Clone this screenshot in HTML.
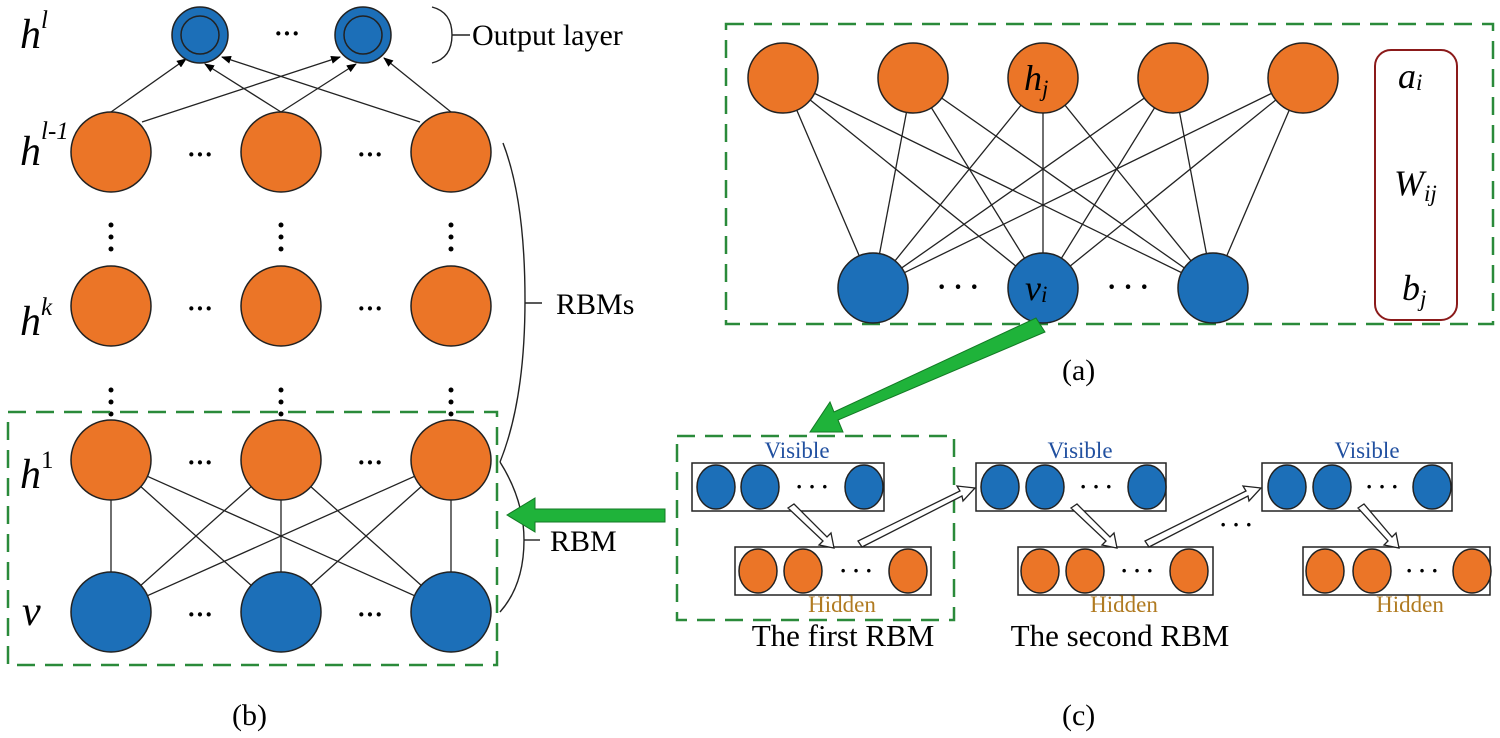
<!DOCTYPE html>
<html><head><meta charset="utf-8"><style>
html,body{margin:0;padding:0;background:#fff;}
svg{display:block;font-family:"Liberation Serif",serif;}
</style></head><body>
<svg width="1500" height="738" viewBox="0 0 1500 738" xmlns="http://www.w3.org/2000/svg">
<defs>
<marker id="ar" markerWidth="10" markerHeight="8" refX="9" refY="4" orient="auto" markerUnits="userSpaceOnUse"><path d="M0,0 L10,4 L0,8 z" fill="#000"/></marker>
</defs>
<g stroke="#222" stroke-width="1.3">
<line x1="111" y1="112" x2="186" y2="59" marker-end="url(#ar)"/>
<line x1="142" y1="122" x2="340" y2="57" marker-end="url(#ar)"/>
<line x1="281" y1="112" x2="205" y2="64" marker-end="url(#ar)"/>
<line x1="281" y1="112" x2="356" y2="64" marker-end="url(#ar)"/>
<line x1="420" y1="122" x2="222" y2="57" marker-end="url(#ar)"/>
<line x1="451" y1="112" x2="384" y2="58" marker-end="url(#ar)"/>
<line x1="111" y1="460" x2="111" y2="612"/><line x1="281" y1="460" x2="281" y2="612"/><line x1="451" y1="460" x2="451" y2="612"/>
<line x1="111" y1="460" x2="281" y2="612"/><line x1="111" y1="460" x2="451" y2="612"/>
<line x1="281" y1="460" x2="111" y2="612"/><line x1="281" y1="460" x2="451" y2="612"/>
<line x1="451" y1="460" x2="111" y2="612"/><line x1="451" y1="460" x2="281" y2="612"/>
<g>
<line x1="783" y1="78" x2="873" y2="288"/><line x1="783" y1="78" x2="1043" y2="288"/><line x1="783" y1="78" x2="1213" y2="288"/>
<line x1="913" y1="78" x2="873" y2="288"/><line x1="913" y1="78" x2="1043" y2="288"/><line x1="913" y1="78" x2="1213" y2="288"/>
<line x1="1043" y1="78" x2="873" y2="288"/><line x1="1043" y1="78" x2="1043" y2="288"/><line x1="1043" y1="78" x2="1213" y2="288"/>
<line x1="1173" y1="78" x2="873" y2="288"/><line x1="1173" y1="78" x2="1043" y2="288"/><line x1="1173" y1="78" x2="1213" y2="288"/>
<line x1="1303" y1="78" x2="873" y2="288"/><line x1="1303" y1="78" x2="1043" y2="288"/><line x1="1303" y1="78" x2="1213" y2="288"/>
</g>
</g>
<g stroke="#222" stroke-width="1.5">
<circle cx="200" cy="35" r="28" fill="#1c6fb8"/><circle cx="200" cy="35" r="19" fill="none"/>
<circle cx="363" cy="35" r="28" fill="#1c6fb8"/><circle cx="363" cy="35" r="19" fill="none"/>
<g fill="#eb7527">
<circle cx="111" cy="152" r="40"/><circle cx="281" cy="152" r="40"/><circle cx="451" cy="152" r="40"/>
<circle cx="111" cy="306" r="40"/><circle cx="281" cy="306" r="40"/><circle cx="451" cy="306" r="40"/>
<circle cx="111" cy="460" r="40"/><circle cx="281" cy="460" r="40"/><circle cx="451" cy="460" r="40"/>
</g>
<g fill="#1c6fb8">
<circle cx="111" cy="612" r="40"/><circle cx="281" cy="612" r="40"/><circle cx="451" cy="612" r="40"/>
</g>
</g>
<g font-size="26" text-anchor="middle" font-weight="bold">
<text x="287" y="42">···</text>
<text x="200" y="163">···</text><text x="370" y="163">···</text>
<text x="200" y="317">···</text><text x="370" y="317">···</text>
<text x="200" y="471">···</text><text x="370" y="471">···</text>
<text x="200" y="623">···</text><text x="370" y="623">···</text>
</g>
<g fill="#000">
<circle cx="111" cy="225" r="2.5"/><circle cx="111" cy="237" r="2.5"/><circle cx="111" cy="249" r="2.5"/>
<circle cx="281" cy="225" r="2.5"/><circle cx="281" cy="237" r="2.5"/><circle cx="281" cy="249" r="2.5"/>
<circle cx="451" cy="225" r="2.5"/><circle cx="451" cy="237" r="2.5"/><circle cx="451" cy="249" r="2.5"/>
<circle cx="111" cy="390" r="2.5"/><circle cx="111" cy="402" r="2.5"/><circle cx="111" cy="414" r="2.5"/>
<circle cx="281" cy="390" r="2.5"/><circle cx="281" cy="402" r="2.5"/><circle cx="281" cy="414" r="2.5"/>
<circle cx="451" cy="390" r="2.5"/><circle cx="451" cy="402" r="2.5"/><circle cx="451" cy="414" r="2.5"/>
</g>
<g font-size="42" font-style="italic">
<text x="20" y="48">h<tspan font-size="25" dy="-20">l</tspan></text>
<text x="20" y="165">h<tspan font-size="25" dy="-26">l-1</tspan></text>
<text x="20" y="335">h<tspan font-size="25" dy="-20">k</tspan></text>
<text x="20" y="488">h<tspan font-size="25" dy="-20" font-style="normal">1</tspan></text>
<text x="22" y="625">v</text>
</g>
<g fill="none" stroke="#222" stroke-width="1.4">
<path d="M432,7 Q452,12 452,35 Q452,58 432,63"/><line x1="452" y1="35" x2="470" y2="35"/>
<path d="M503,143 Q525,200 525,300 Q525,400 500,462"/><line x1="525" y1="303" x2="542" y2="303"/>
<path d="M500,462 Q524,500 524,540 Q524,585 500,612"/><line x1="524" y1="540" x2="540" y2="540"/>
</g>
<g font-size="30">
<text x="472" y="45">Output layer</text>
<text x="556" y="314">RBMs</text>
<text x="550" y="551">RBM</text>
<text x="232" y="725">(b)</text>
<text x="1062" y="380">(a)</text>
<text x="1062" y="725">(c)</text>
</g>
<rect x="8" y="412" width="489" height="253" fill="none" stroke="#2a8a3a" stroke-width="2.5" stroke-dasharray="18,10"/>
<rect x="726" y="24" width="767" height="300" fill="none" stroke="#2a8a3a" stroke-width="2.5" stroke-dasharray="18,10"/>
<g stroke="#222" stroke-width="1.5">
<g fill="#eb7527"><circle cx="783" cy="78" r="35"/><circle cx="913" cy="78" r="35"/><circle cx="1043" cy="78" r="35"/><circle cx="1173" cy="78" r="35"/><circle cx="1303" cy="78" r="35"/></g>
<g fill="#1c6fb8"><circle cx="873" cy="288" r="35"/><circle cx="1043" cy="288" r="35"/><circle cx="1213" cy="288" r="35"/></g>
</g>
<rect x="1375" y="50" width="82" height="270" rx="16" fill="none" stroke="#8b1a1a" stroke-width="2"/>
<g font-size="28" text-anchor="middle" font-weight="bold"><text x="958" y="296">· · ·</text><text x="1128" y="296">· · ·</text></g>
<g font-style="italic" font-size="36">
<text x="1024" y="90">h<tspan font-size="23" dy="6">j</tspan></text>
<text x="1025" y="300">v<tspan font-size="23" dy="2">i</tspan></text>
<text x="1398" y="88">a<tspan font-size="23" dy="2">i</tspan></text>
<text x="1394" y="195">W<tspan font-size="23" dy="6">ij</tspan></text>
<text x="1402" y="300">b<tspan font-size="23" dy="6">j</tspan></text>
</g>
<polygon points="1036,318 1045,332 838,420 843,432 810,432 830,402 834,412" fill="#1fb33a" stroke="#137a25" stroke-width="1"/>
<polygon points="665,509 665,522 535,522 535,532 507,515 535,498 535,509" fill="#1fb33a" stroke="#137a25" stroke-width="1"/>
<rect x="677" y="436" width="277" height="184" fill="none" stroke="#2a8a3a" stroke-width="2.5" stroke-dasharray="18,10"/>
<g stroke="#222" stroke-width="1.5">
<rect x="692" y="463" width="192" height="48" fill="#fff"/>
<rect x="735" y="547" width="196" height="48" fill="#fff"/>
<rect x="976" y="463" width="190" height="48" fill="#fff"/>
<rect x="1018" y="547" width="195" height="48" fill="#fff"/>
<rect x="1262" y="463" width="190" height="48" fill="#fff"/>
<rect x="1303" y="547" width="187" height="48" fill="#fff"/>
<g fill="#1c6fb8">
<ellipse cx="716" cy="487" rx="19" ry="22"/><ellipse cx="760" cy="487" rx="19" ry="22"/><ellipse cx="864" cy="487" rx="19" ry="22"/>
<ellipse cx="1000" cy="487" rx="19" ry="22"/><ellipse cx="1045" cy="487" rx="19" ry="22"/><ellipse cx="1147" cy="487" rx="19" ry="22"/>
<ellipse cx="1287" cy="487" rx="19" ry="22"/><ellipse cx="1332" cy="487" rx="19" ry="22"/><ellipse cx="1432" cy="487" rx="19" ry="22"/>
</g>
<g fill="#eb7527">
<ellipse cx="758" cy="571" rx="19" ry="22"/><ellipse cx="803" cy="571" rx="19" ry="22"/><ellipse cx="908" cy="571" rx="19" ry="22"/>
<ellipse cx="1040" cy="571" rx="19" ry="22"/><ellipse cx="1085" cy="571" rx="19" ry="22"/><ellipse cx="1189" cy="571" rx="19" ry="22"/>
<ellipse cx="1325" cy="571" rx="19" ry="22"/><ellipse cx="1372" cy="571" rx="19" ry="22"/><ellipse cx="1472" cy="571" rx="19" ry="22"/>
</g>
</g>
<g font-size="22" text-anchor="middle" font-weight="bold">
<text x="812" y="494">· · ·</text><text x="1096" y="494">· · ·</text><text x="1382" y="494">· · ·</text>
<text x="856" y="578">· · ·</text><text x="1137" y="578">· · ·</text><text x="1422" y="578">· · ·</text>
<text x="1236" y="532">· · ·</text>
</g>
<g fill="#fff" stroke="#222" stroke-width="1.3">
<polygon points="788,508 794,504 827,537 831,533 834,548 819,545 823,541"/>
<polygon points="862,547 858,541 960,491 957,486 975,488 963,501 962,496"/>
<polygon points="1071,508 1077,504 1110,537 1114,533 1117,548 1102,545 1106,541"/>
<polygon points="1149,547 1145,541 1246,491 1243,486 1261,488 1249,501 1248,496"/>
<polygon points="1358,508 1364,504 1392,537 1396,533 1399,548 1384,545 1388,541"/>
</g>
<g font-size="23" text-anchor="middle">
<text x="797" y="458" fill="#2150a0">Visible</text>
<text x="1080" y="458" fill="#2150a0">Visible</text>
<text x="1367" y="458" fill="#2150a0">Visible</text>
<text x="842" y="612" fill="#b07a20">Hidden</text>
<text x="1124" y="612" fill="#b07a20">Hidden</text>
<text x="1410" y="612" fill="#b07a20">Hidden</text>
</g>
<g font-size="31" text-anchor="middle">
<text x="843" y="646">The first RBM</text>
<text x="1120" y="646">The second RBM</text>
</g>
</svg>
</body></html>
